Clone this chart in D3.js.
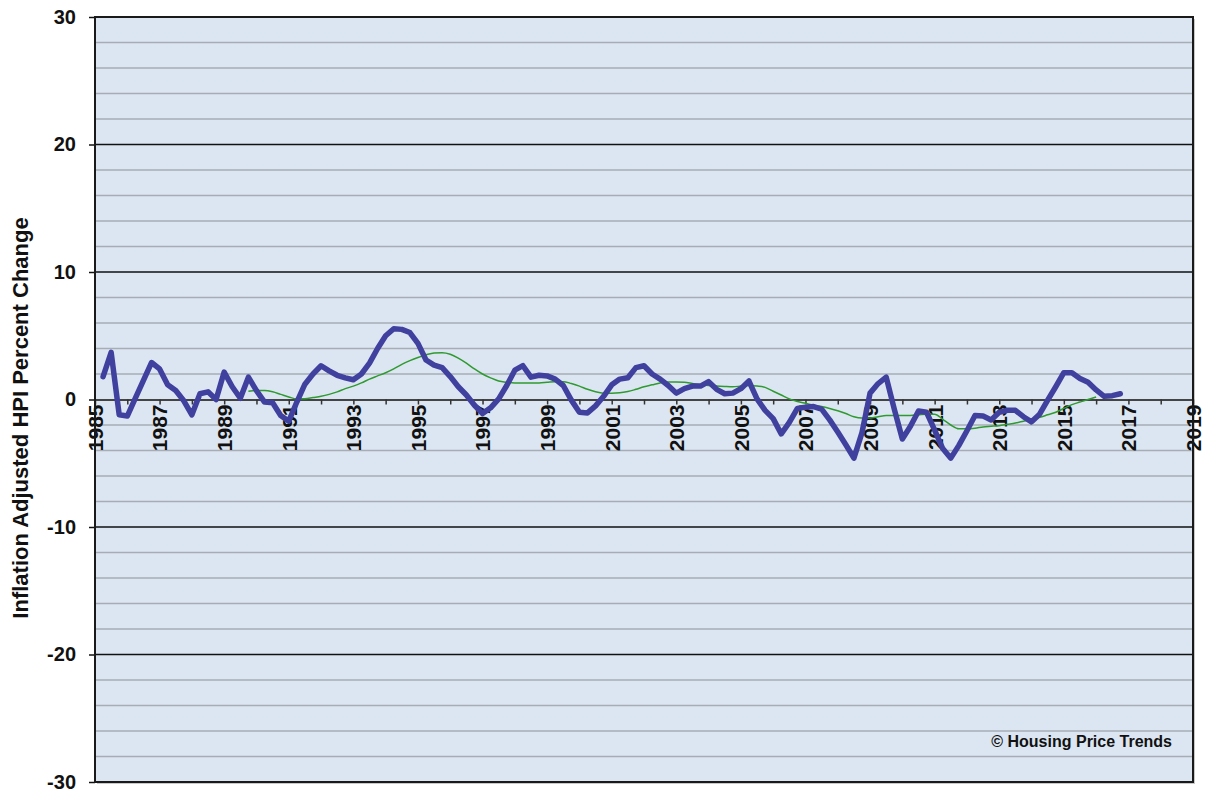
<!DOCTYPE html>
<html>
<head>
<meta charset="utf-8">
<script src="https://cdnjs.cloudflare.com/ajax/libs/d3/7.8.5/d3.min.js"></script>
<style>
  body { margin: 0; background: #fff; }
  text { font-family: Arial, "Liberation Sans", sans-serif; font-weight: bold; }
</style>
</head>
<body>
<svg id="chart" width="1206" height="797"></svg>
<script>
// quarterly inflation adjusted HPI % change, first quarter plotted at 1985.25
const hpiStart = 1985.25;
const hpiValues = [
  1.8, 3.7, -1.2, -1.3, 0.1, 1.5, 2.9, 2.4, 1.15, 0.7, -0.1, -1.2,
  0.45, 0.6, 0.0, 2.15, 1.0, 0.1, 1.75, 0.7, -0.2, -0.25, -1.25, -1.7,
  -0.2, 1.2, 2.0, 2.65, 2.25, 1.9, 1.7, 1.55, 2.0, 2.85, 4.0, 5.0,
  5.55, 5.5, 5.25, 4.4, 3.1, 2.7, 2.5, 1.8, 1.0, 0.35, -0.45, -1.1,
  -0.65, 0.05, 1.1, 2.3, 2.65, 1.75, 1.9, 1.85, 1.6, 1.1, -0.05, -1.0,
  -1.05, -0.5, 0.25, 1.15, 1.6, 1.7, 2.5, 2.65, 2.0, 1.6, 1.1, 0.5,
  0.85, 1.05, 1.05, 1.4, 0.8, 0.45, 0.5, 0.85, 1.45, 0.05, -0.85, -1.5,
  -2.7, -1.8, -0.7, -0.6, -0.55, -0.75, -1.6, -2.55, -3.55, -4.6, -2.6, 0.5,
  1.25, 1.75, -0.75, -3.1, -2.1, -0.9, -1.0, -2.4, -3.85, -4.6, -3.6, -2.45,
  -1.25, -1.3, -1.6, -1.0, -0.85, -0.85, -1.35, -1.75, -1.15, -0.05, 1.0, 2.1,
  2.1, 1.65, 1.35, 0.75, 0.25, 0.3, 0.45
];

// smoothed trend, first quarter plotted at 1989.75
const trendStart = 1989.75;
const trendValues = [
  0.65, 0.7, 0.7, 0.6, 0.4, 0.2, 0.05, 0.05, 0.15, 0.25, 0.4, 0.6,
  0.85, 1.05, 1.3, 1.6, 1.85, 2.1, 2.4, 2.75, 3.05, 3.3, 3.5, 3.65,
  3.67, 3.55, 3.25, 2.85, 2.4, 2.0, 1.7, 1.45, 1.35, 1.3, 1.3, 1.3,
  1.3, 1.35, 1.4, 1.4, 1.25, 1.05, 0.8, 0.6, 0.5, 0.5, 0.52, 0.62,
  0.8, 1.0, 1.15, 1.3, 1.38, 1.38, 1.35, 1.25, 1.15, 1.1, 1.05, 1.02,
  1.0, 1.05, 1.1, 1.05, 0.95, 0.65, 0.35, 0.05, -0.15, -0.3, -0.45, -0.55,
  -0.7, -0.88, -1.1, -1.35, -1.45, -1.45, -1.35, -1.25, -1.25, -1.25, -1.25, -1.2,
  -1.15, -1.15, -1.55, -2.0, -2.3, -2.3, -2.25, -2.15, -2.1, -2.05, -1.95, -1.85,
  -1.7, -1.55, -1.4, -1.2, -1.0, -0.7, -0.4, -0.2, 0.0, 0.2
];

const xDomain = [1985, 2019];
const yTicks = [-30, -20, -10, 0, 10, 20, 30];
const yMinorStep = 2;

const svg = d3.select("#chart");
const plotL = 95, plotR = 1193, plotT = 17, plotB = 782;

const x = d3.scaleLinear().domain(xDomain).range([plotL, plotR]);
const y = d3.scaleLinear().domain([-30, 30]).range([plotB, plotT]);

const toPoints = (start, vals) => vals.map((v, i) => ({ year: start + i * 0.25, value: v }));
const hpi = toPoints(hpiStart, hpiValues);
const trend = toPoints(trendStart, trendValues);

// shadow + plot background
svg.append("rect")
  .attr("x", plotL + 2).attr("y", plotT + 2)
  .attr("width", plotR - plotL).attr("height", plotB - plotT)
  .attr("fill", "#c8c8c8");
svg.append("rect")
  .attr("x", plotL).attr("y", plotT)
  .attr("width", plotR - plotL).attr("height", plotB - plotT)
  .attr("fill", "#dce6f2");

// minor gridlines
const minor = d3.range(-30 + yMinorStep, 30, yMinorStep).filter(d => d % 10 !== 0);
svg.append("g")
  .selectAll("line")
  .data(minor)
  .join("line")
  .attr("x1", plotL).attr("x2", plotR)
  .attr("y1", d => y(d)).attr("y2", d => y(d))
  .attr("stroke", "#a6adb5")
  .attr("stroke-width", 1.5);

// major gridlines
svg.append("g")
  .selectAll("line")
  .data(yTicks.filter(d => d !== 0 && Math.abs(d) !== 30))
  .join("line")
  .attr("x1", plotL).attr("x2", plotR)
  .attr("y1", d => y(d)).attr("y2", d => y(d))
  .attr("stroke", "#111")
  .attr("stroke-width", 1.5);

// y axis
const yAxis = svg.append("g")
  .attr("transform", `translate(${plotL},0)`)
  .call(d3.axisLeft(y).tickValues(yTicks).tickSize(6).tickPadding(13)
    .tickFormat(d => String(d)));
yAxis.select(".domain").remove();
yAxis.selectAll("line").attr("stroke", "#111").attr("stroke-width", 1.5);
yAxis.selectAll("text").attr("font-size", 20).attr("fill", "#111")
  .style("font-family", "Arial, 'Liberation Sans', sans-serif");

// x axis along zero
const xAxis = svg.append("g")
  .attr("transform", `translate(0,${y(0)})`)
  .call(d3.axisBottom(x)
    .tickValues(d3.range(xDomain[0], xDomain[1] + 1))
    .tickSize(5)
    .tickSizeOuter(0)
    .tickFormat(d => (d - xDomain[0]) % 2 === 0 ? d : ""));
xAxis.select(".domain").attr("stroke", "#444").attr("stroke-width", 2);
xAxis.selectAll("line").attr("stroke", "#333").attr("stroke-width", 1.5);
xAxis.selectAll("text")
  .attr("font-size", 21)
  .attr("fill", "#111")
  .style("font-family", "Arial, 'Liberation Sans', sans-serif")
  .attr("transform", "rotate(-90)")
  .attr("text-anchor", "end")
  .attr("x", -5)
  .attr("y", 0)
  .attr("dy", "0.35em");

// lines
const line = d3.line().x(d => x(d.year)).y(d => y(d.value));

svg.append("path")
  .datum(trend)
  .attr("fill", "none")
  .attr("stroke", "#2f9a2f")
  .attr("stroke-width", 1.5)
  .attr("d", line.curve(d3.curveMonotoneX));

svg.append("path")
  .datum(hpi)
  .attr("fill", "none")
  .attr("stroke", "#40409e")
  .attr("stroke-width", 5.5)
  .attr("stroke-linejoin", "round")
  .attr("stroke-linecap", "round")
  .attr("d", line.curve(d3.curveLinear));

// border
svg.append("rect")
  .attr("x", plotL).attr("y", plotT)
  .attr("width", plotR - plotL).attr("height", plotB - plotT)
  .attr("fill", "none")
  .attr("stroke", "#1a1a1a")
  .attr("stroke-width", 2);

// y axis title
svg.append("text")
  .attr("transform", "translate(28,418) rotate(-90)")
  .attr("text-anchor", "middle")
  .attr("font-size", 22)
  .attr("fill", "#111")
  .text("Inflation Adjusted HPI Percent Change");

svg.append("text")
  .attr("x", 1172)
  .attr("y", 747)
  .attr("text-anchor", "end")
  .attr("font-size", 16)
  .attr("fill", "#111")
  .text("© Housing Price Trends");
</script>
</body>
</html>
